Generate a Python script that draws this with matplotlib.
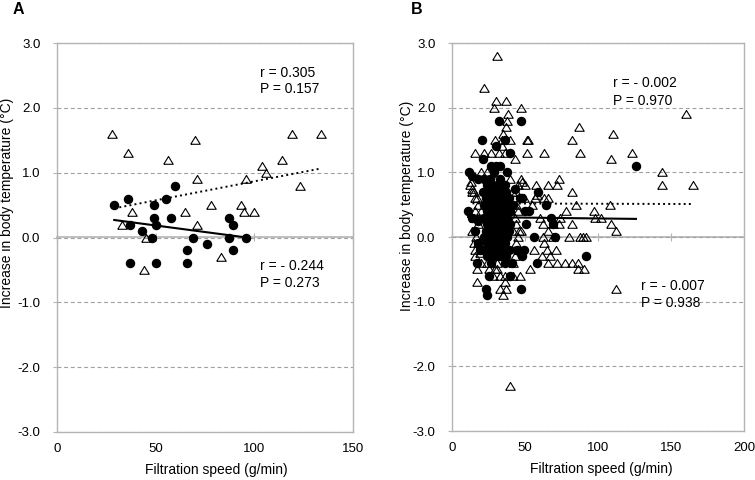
import matplotlib
matplotlib.use('Agg')
import numpy as np
import matplotlib.pyplot as plt
from matplotlib.path import Path

plt.rcParams['font.family'] = ['Liberation Sans', 'DejaVu Sans']
plt.rcParams['axes.unicode_minus'] = False

# ---- Panel A data ----
a_tri_x = [28, 36, 38, 33, 45, 44, 56, 65, 70, 71, 71, 78, 83, 93, 95, 96, 100, 104, 106, 114, 119, 123, 134]
a_tri_y = [1.6, 1.3, 0.4, 0.2, 0.0, -0.5, 1.2, 0.4, 1.5, 0.9, 0.2, 0.5, -0.3, 0.5, 0.4, 0.9, 0.4, 1.1, 1.0, 1.2, 1.6, 0.8, 1.6]
a_dot_x = [29, 36, 37, 37, 43, 48, 49, 49, 50, 50, 55, 58, 60, 66, 66, 69, 76, 87, 89, 87, 89, 96]
a_dot_y = [0.5, 0.6, 0.2, -0.4, 0.1, 0.0, 0.5, 0.3, 0.2, -0.4, 0.6, 0.3, 0.8, -0.2, -0.4, 0.0, -0.1, 0.3, 0.2, 0.0, -0.2, 0.0]
a_fit_tri_x = [29, 133]
a_fit_tri_y = [0.45, 1.06]
a_fit_dot_x = [29, 96]
a_fit_dot_y = [0.27, 0.0]

# ---- Panel B data ----
b_tri_x = [31, 22, 30, 37, 29, 47, 38.5, 37.5, 37, 35, 34, 40, 29.5, 51.5, 52, 82, 87, 110.5, 160,
           15.5, 22, 26.5, 32, 36, 51.5, 63, 87.5, 123.5, 109, 43, 34,
           143.5, 144, 165, 20, 24,
           47.5, 73, 13, 30, 40,
           12.5, 14, 30, 45, 50, 57.5, 66, 72, 48,
           14, 15, 26, 41, 44, 82, 35,
           16, 17, 49, 57, 63, 66, 58,
           85, 108, 18, 36, 44, 55,
           78, 97, 40, 20, 16, 45,
           60, 74, 98, 102, 15, 43,
           62, 69, 82, 109, 73, 18, 44,
           112, 46, 47.5, 14, 42, 66,
           16.5, 80, 88, 90, 92, 69.5, 45, 62,
           63, 18, 15, 44,
           56.5, 65, 71, 16, 45, 19,
           67, 61.5, 16, 43, 30,
           66, 72, 77.5, 82, 86, 20, 24, 31, 42,
           53.5, 86.5, 90.5, 17, 25, 29.5, 31,
           28, 33, 46.5, 36, 42,
           17, 36,
           33, 37, 112,
           35, 40]
b_tri_y = [2.8, 2.3, 2.1, 2.1, 2.0, 2.0, 1.9, 1.8, 1.7, 1.6, 1.5, 1.5, 1.5, 1.5, 1.5, 1.5, 1.7, 1.6, 1.9,
           1.3, 1.3, 1.3, 1.3, 1.3, 1.3, 1.3, 1.3, 1.3, 1.2, 1.2, 1.4,
           1.0, 0.8, 0.8, 1.0, 1.0,
           0.9, 0.9, 0.85, 0.9, 0.9,
           0.8, 0.75, 0.8, 0.8, 0.8, 0.8, 0.8, 0.8, 0.85,
           0.7, 0.7, 0.7, 0.7, 0.7, 0.7, 0.7,
           0.6, 0.6, 0.6, 0.6, 0.6, 0.6, 0.65,
           0.5, 0.5, 0.5, 0.5, 0.5, 0.5,
           0.4, 0.4, 0.4, 0.4, 0.4, 0.4,
           0.3, 0.3, 0.3, 0.3, 0.3, 0.3,
           0.2, 0.2, 0.2, 0.2, 0.2, 0.2, 0.2,
           0.1, 0.1, 0.1, 0.1, 0.1, 0.1,
           0.0, 0.0, 0.0, 0.0, 0.0, 0.0, 0.0, 0.0,
           -0.1, -0.1, -0.1, -0.1,
           -0.2, -0.2, -0.2, -0.2, -0.2, -0.25,
           -0.3, -0.3, -0.3, -0.3, -0.3,
           -0.4, -0.4, -0.4, -0.4, -0.4, -0.4, -0.4, -0.4, -0.4,
           -0.5, -0.5, -0.5, -0.5, -0.5, -0.5, -0.5,
           -0.6, -0.6, -0.6, -0.6, -0.6,
           -0.7, -0.7,
           -0.8, -0.8, -0.8,
           -0.9, -2.3]
b_dot_x = [32, 47, 20.5, 36, 30, 40, 21.5, 11.5, 37.5, 27, 30, 33, 29, 18, 14,
           126, 11, 59, 64.5, 48, 50, 53, 50.5, 68, 69, 70.5, 56.5, 58.5, 92, 47,
           25, 23.5, 24, 39.5, 49.5, 44.5, 48, 17, 19, 43, 46.5, 18, 14, 16, 18,
           22, 26, 33,
           24, 28, 32, 36,
           21, 25, 29, 33, 37,
           23, 27, 31, 35, 39,
           22, 26, 30, 34, 38, 42,
           24, 28, 32, 36, 40,
           22, 26, 30, 34, 38,
           24, 28, 32, 36, 40,
           23, 27, 31, 35, 39,
           22, 26, 30, 34, 38,
           24, 28, 32, 36,
           21, 26, 30, 35, 39,
           24, 29, 33, 37,
           27, 36, 41]
b_dot_y = [1.8, 1.8, 1.5, 1.5, 1.4, 1.3, 1.2, 1.0, 1.0, 1.1, 1.1, 1.1, 1.0, 0.9, 0.95,
           1.1, 0.4, 0.7, 0.5, 0.6, 0.4, 0.4, 0.2, 0.3, 0.2, 0.0, 0.0, -0.4, -0.3, -0.8,
           -0.6, -0.8, -0.9, -0.6, -0.2, -0.2, -0.3, -0.4, -0.2, 0.75, 0.6, 0.25, 0.3, 0.1, -0.1,
           0.9, 0.9, 0.9,
           0.8, 0.8, 0.8, 0.8,
           0.7, 0.7, 0.7, 0.7, 0.7,
           0.6, 0.6, 0.6, 0.6, 0.6,
           0.5, 0.5, 0.5, 0.5, 0.5, 0.5,
           0.4, 0.4, 0.4, 0.4, 0.4,
           0.3, 0.3, 0.3, 0.3, 0.3,
           0.2, 0.2, 0.2, 0.2, 0.2,
           0.1, 0.1, 0.1, 0.1, 0.1,
           0.0, 0.0, 0.0, 0.0, 0.0,
           -0.1, -0.1, -0.1, -0.1,
           -0.2, -0.2, -0.2, -0.2, -0.2,
           -0.3, -0.3, -0.3, -0.3,
           -0.4, -0.4, -0.4]
b_fit_tri_x = [14, 164]
b_fit_tri_y = [0.52, 0.51]
b_fit_dot_x = [11, 126]
b_fit_dot_y = [0.31, 0.28]

y_ticks = [-3.0, -2.0, -1.0, 0.0, 1.0, 2.0, 3.0]
a_xticks = [0, 50, 100, 150]
b_xticks = [0, 50, 100, 150, 200]

gray = '#b4b4b4'
tri_marker = Path([(-1, -0.8), (1, -0.8), (0, 0.85), (-1, -0.8)])


def style_panel(ax, xticks):
    ax.set_xlim(xticks[0], xticks[-1])
    ax.set_ylim(-3, 3)
    ax.set_yticks(y_ticks)
    ax.set_yticklabels(['%.1f' % v for v in y_ticks])
    ax.set_xticks(xticks)
    ax.grid(axis='y', color='#a0a0a0', lw=0.8, dashes=(3.5, 2.5))
    for s in ax.spines.values():
        s.set_color(gray)
        s.set_linewidth(1)
    ax.tick_params(axis='y', direction='out', length=3, width=0.8, color=gray, pad=9, labelsize=9.5)
    ax.tick_params(axis='x', length=0, pad=8, labelsize=9.5)
    # x axis line with ticks crossing at y = 0
    sec = ax.secondary_xaxis(0.5)
    sec.set_xticks(xticks)
    sec.tick_params(direction='inout', length=6, width=0.8, color=gray,
                    labeltop=False, labelbottom=False)
    for s in sec.spines.values():
        s.set_color(gray)
        s.set_linewidth(1.2)
    ax.set_xlabel('Filtration speed (g/min)', fontsize=10, va='center')
    ax.set_ylabel('Increase in body temperature (°C)', fontsize=10, va='center')


fig = plt.figure(figsize=(7.55, 4.8), dpi=100)
ax_a = fig.add_axes([57 / 755, 48 / 480, 296 / 755, 389 / 480])
ax_b = fig.add_axes([452 / 755, 49 / 480, 292 / 755, 388 / 480])

for ax, xticks in [(ax_a, a_xticks), (ax_b, b_xticks)]:
    style_panel(ax, xticks)

# Panel A
ax_a.plot(a_tri_x, a_tri_y, ls='none', marker=tri_marker, ms=6.8, mfc='none', mec='black', mew=0.8, zorder=3)
ax_a.plot(a_dot_x, a_dot_y, ls='none', marker='o', ms=5.8, mfc='black', mec='black', zorder=4)
ax_a.plot(a_fit_tri_x, a_fit_tri_y, color='black', ls=':', lw=1.4, zorder=5)
ax_a.plot(a_fit_dot_x, a_fit_dot_y, color='black', ls='-', lw=1.5, zorder=5)
ax_a.text(103, 2.54, 'r = 0.305', fontsize=10, va='center')
ax_a.text(103, 2.29, 'P = 0.157', fontsize=10, va='center')
ax_a.text(103, -0.44, 'r = - 0.244', fontsize=10, va='center')
ax_a.text(103, -0.70, 'P = 0.273', fontsize=10, va='center')
ax_a.xaxis.set_label_coords(0.538, -0.097)
ax_a.yaxis.set_label_coords(-0.17, 0.59)

# Panel B
ax_b.plot(b_tri_x, b_tri_y, ls='none', marker=tri_marker, ms=6.8, mfc='none', mec='black', mew=0.8, zorder=3)
ax_b.plot(b_dot_x, b_dot_y, ls='none', marker='o', ms=5.8, mfc='black', mec='black', zorder=4)
ax_b.plot(b_fit_tri_x, b_fit_tri_y, color='black', ls=':', lw=1.4, zorder=5)
ax_b.plot(b_fit_dot_x, b_fit_dot_y, color='black', ls='-', lw=1.5, zorder=5)
ax_b.text(110, 2.38, 'r = - 0.002', fontsize=10, va='center')
ax_b.text(110, 2.11, 'P = 0.970', fontsize=10, va='center')
ax_b.text(129.5, -0.75, 'r = - 0.007', fontsize=10, va='center')
ax_b.text(129.5, -1.02, 'P = 0.938', fontsize=10, va='center')
ax_b.xaxis.set_label_coords(0.513, -0.097)
ax_b.yaxis.set_label_coords(-0.155, 0.58)

fig.text(13 / 755, 1 - 13.5 / 480, 'A', fontsize=11.5, fontweight='bold')
fig.text(411 / 755, 1 - 13.5 / 480, 'B', fontsize=11.5, fontweight='bold')

fig.savefig('out.png', dpi=100)
